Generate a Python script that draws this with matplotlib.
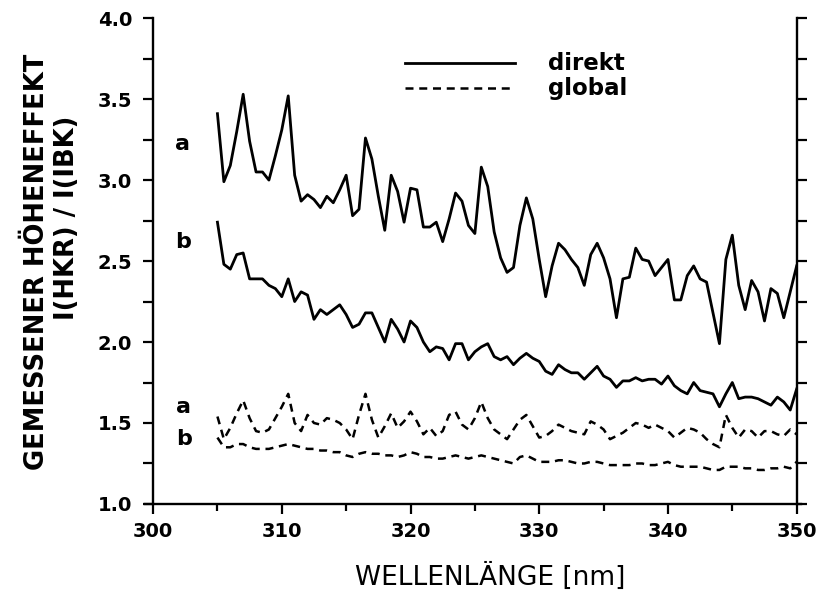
import numpy as np
import matplotlib
matplotlib.use("Agg")
import matplotlib.pyplot as plt
from matplotlib.ticker import MultipleLocator, FormatStrFormatter

plt.rcParams['font.family'] = ['DejaVu Sans']

# wavelength grid, 0.5 nm steps 305..350
wavelength = np.arange(305.0, 350.01, 0.5)

direkt_a = [3.41, 2.99, 3.09, 3.30, 3.53, 3.24, 3.05, 3.05, 3.00, 3.15,
            3.31, 3.52, 3.03, 2.87, 2.91, 2.88, 2.83, 2.90, 2.86, 2.94,
            3.03, 2.78, 2.82, 3.26, 3.13, 2.90, 2.69, 3.03, 2.93, 2.74,
            2.95, 2.94, 2.71, 2.71, 2.74, 2.62, 2.76, 2.92, 2.87, 2.72,
            2.67, 3.08, 2.96, 2.68, 2.52, 2.43, 2.46, 2.72, 2.89, 2.76,
            2.51, 2.28, 2.47, 2.61, 2.57, 2.51, 2.46, 2.35, 2.54, 2.61,
            2.52, 2.39, 2.15, 2.39, 2.40, 2.58, 2.51, 2.50, 2.41, 2.46,
            2.51, 2.26, 2.26, 2.41, 2.47, 2.39, 2.37, 2.18, 1.99, 2.51,
            2.66, 2.35, 2.20, 2.38, 2.31, 2.13, 2.33, 2.30, 2.15, 2.31,
            2.47]

direkt_b = [2.74, 2.48, 2.45, 2.54, 2.55, 2.39, 2.39, 2.39, 2.35, 2.33,
            2.28, 2.39, 2.25, 2.31, 2.29, 2.14, 2.20, 2.17, 2.20, 2.23,
            2.17, 2.09, 2.11, 2.18, 2.18, 2.09, 2.00, 2.14, 2.08, 2.00,
            2.13, 2.09, 2.00, 1.94, 1.97, 1.96, 1.89, 1.99, 1.99, 1.89,
            1.94, 1.97, 1.99, 1.91, 1.89, 1.91, 1.86, 1.90, 1.93, 1.90,
            1.88, 1.82, 1.80, 1.86, 1.83, 1.81, 1.81, 1.77, 1.81, 1.85,
            1.79, 1.77, 1.72, 1.76, 1.76, 1.78, 1.76, 1.77, 1.77, 1.74,
            1.79, 1.73, 1.70, 1.68, 1.75, 1.70, 1.69, 1.68, 1.60, 1.68,
            1.75, 1.65, 1.66, 1.66, 1.65, 1.63, 1.61, 1.66, 1.63, 1.58,
            1.71]

global_a = [1.54, 1.40, 1.47, 1.56, 1.64, 1.53, 1.45, 1.44, 1.46, 1.53,
            1.60, 1.68, 1.50, 1.45, 1.55, 1.50, 1.49, 1.53, 1.52, 1.50,
            1.46, 1.40, 1.55, 1.68, 1.52, 1.41, 1.48, 1.56, 1.47, 1.51,
            1.57, 1.51, 1.43, 1.47, 1.42, 1.45, 1.55, 1.57, 1.49, 1.46,
            1.53, 1.63, 1.53, 1.46, 1.43, 1.40, 1.46, 1.52, 1.55, 1.48,
            1.41, 1.42, 1.45, 1.49, 1.47, 1.45, 1.44, 1.43, 1.51, 1.49,
            1.46, 1.40, 1.42, 1.44, 1.47, 1.50, 1.49, 1.47, 1.49, 1.47,
            1.45, 1.41, 1.44, 1.47, 1.46, 1.44, 1.40, 1.37, 1.35, 1.55,
            1.47, 1.41, 1.46, 1.45, 1.41, 1.45, 1.45, 1.43, 1.42, 1.46,
            1.43]

global_b = [1.41, 1.35, 1.35, 1.37, 1.37, 1.35, 1.34, 1.34, 1.34, 1.35,
            1.36, 1.37, 1.36, 1.35, 1.34, 1.34, 1.33, 1.33, 1.32, 1.32,
            1.30, 1.29, 1.31, 1.32, 1.31, 1.31, 1.30, 1.30, 1.29, 1.30,
            1.32, 1.31, 1.29, 1.29, 1.28, 1.28, 1.29, 1.30, 1.29, 1.28,
            1.29, 1.30, 1.29, 1.28, 1.27, 1.26, 1.25, 1.29, 1.30, 1.28,
            1.26, 1.26, 1.26, 1.27, 1.27, 1.26, 1.25, 1.25, 1.26, 1.26,
            1.25, 1.24, 1.24, 1.24, 1.24, 1.25, 1.25, 1.24, 1.24, 1.25,
            1.26, 1.24, 1.23, 1.23, 1.23, 1.23, 1.22, 1.21, 1.21, 1.23,
            1.23, 1.23, 1.22, 1.22, 1.21, 1.21, 1.22, 1.22, 1.23, 1.22,
            1.26]

fig = plt.figure(figsize=(8.23, 6.05), dpi=100)
ax = fig.add_axes([0.186, 0.167, 0.782, 0.803])

lw = 2.0
dash_lw = 1.8
ax.plot(wavelength, direkt_a, color='black', lw=lw)
ax.plot(wavelength, direkt_b, color='black', lw=lw)
ax.plot(wavelength, global_a, color='black', lw=dash_lw, dashes=(3.2, 2.3))
ax.plot(wavelength, global_b, color='black', lw=dash_lw, dashes=(3.2, 2.3))

ax.set_xlim(300, 350)
ax.set_ylim(1.0, 4.0)

ax.spines['top'].set_visible(False)
for s in ['left', 'right', 'bottom']:
    ax.spines[s].set_linewidth(1.7)
ax.spines['bottom'].set_bounds(299.4, 350.3)

ax.xaxis.set_major_locator(MultipleLocator(10))
ax.xaxis.set_minor_locator(MultipleLocator(5))
ax.yaxis.set_major_locator(MultipleLocator(0.5))
ax.yaxis.set_minor_locator(MultipleLocator(0.25))
ax.yaxis.set_major_formatter(FormatStrFormatter('%.1f'))
ax.tick_params(axis='x', which='major', direction='out', length=7, width=1.6,
               labelsize=14, pad=6)
ax.tick_params(axis='x', which='minor', direction='out', length=5, width=1.6)
ax.tick_params(axis='y', which='both', direction='out', length=7, width=1.6,
               right=True, labelsize=14, pad=8)
for lab in ax.get_xticklabels() + ax.get_yticklabels():
    lab.set_fontweight('bold')

# curve labels
lab_kw = dict(fontsize=16, fontweight='bold', ha='center', va='center')
ax.text(302.3, 3.22, 'a', **lab_kw)
ax.text(302.3, 2.62, 'b', **lab_kw)
ax.text(302.4, 1.60, 'a', **lab_kw)
ax.text(302.4, 1.40, 'b', **lab_kw)

# legend
ax.plot([0.391, 0.562], [0.907, 0.907], color='black', lw=lw,
        transform=ax.transAxes)
ax.plot([0.391, 0.562], [0.856, 0.856], color='black', lw=dash_lw,
        dashes=(3.2, 2.3), transform=ax.transAxes)
ax.text(0.613, 0.907, 'direkt', transform=ax.transAxes, fontsize=16.5,
        fontweight='bold', va='center')
ax.text(0.613, 0.856, 'global', transform=ax.transAxes, fontsize=16.5,
        fontweight='bold', va='center')

# axis titles
fig.text(490 / 823, 1 - 577 / 605, 'WELLENLÄNGE [nm]', fontsize=19,
         ha='center', va='center')
fig.text(37 / 823, 1 - 262 / 605, 'GEMESSENER HÖHENEFFEKT', fontsize=18.5,
         fontweight='bold', rotation=90, ha='center', va='center')
fig.text(67 / 823, 1 - 218 / 605, 'I(HKR) / I(IBK)', fontsize=18.5,
         fontweight='bold', rotation=90, ha='center', va='center')

fig.savefig('out.png', dpi=100)
